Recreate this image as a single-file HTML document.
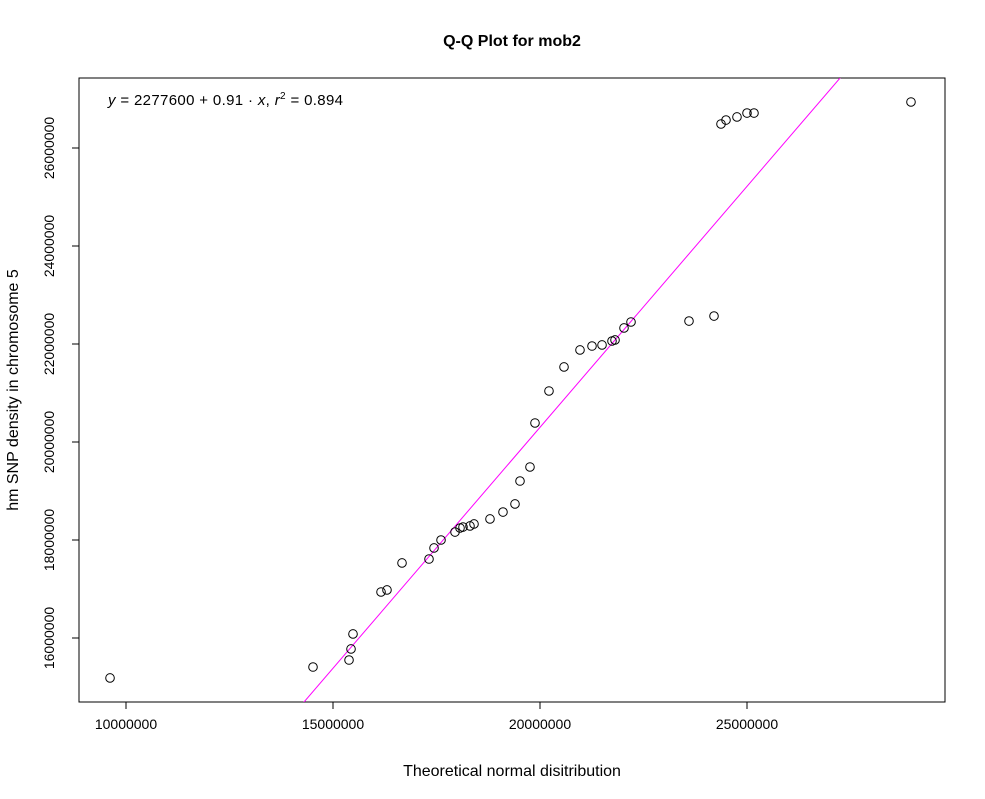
<!DOCTYPE html>
<html><head><meta charset="utf-8">
<style>
html,body{margin:0;padding:0;background:#fff;overflow:hidden;width:985px;height:799px;}
svg{display:block;position:absolute;left:0;top:0;overflow:hidden;font-family:"Liberation Sans",Arial,sans-serif;}
</style></head>
<body>
<svg id="chart" width="985" height="799" viewBox="0 0 985 799">
<text x="512" y="46" text-anchor="middle" font-size="16" font-weight="bold">Q-Q Plot for mob2</text>
<rect x="79" y="78" width="866" height="624" fill="none" stroke="#000" stroke-width="1"/>
<text x="108" y="105" font-size="15" textLength="235" lengthAdjust="spacing"><tspan font-style="italic">y</tspan> = 2277600 + 0.91 · <tspan font-style="italic">x</tspan>,  <tspan font-style="italic">r</tspan><tspan font-size="10" dy="-6">2</tspan><tspan dy="6"> = 0.894</tspan></text>
<text x="512" y="776" text-anchor="middle" font-size="16">Theoretical normal disitribution</text>
<text transform="translate(18,390) rotate(-90)" text-anchor="middle" font-size="16">hm SNP density in chromosome 5</text>
<g id="xaxis"></g>
<g id="yaxis"></g>
<g id="plot"></g>
</svg>
<script>
const xTicks = [10000000, 15000000, 20000000, 25000000];
const yTicks = [16000000, 18000000, 20000000, 22000000, 24000000, 26000000];
const xValues = [9.614,14.517,15.387,15.435,15.483,16.160,16.304,16.667,17.319,17.440,17.609,17.947,18.068,18.140,18.309,18.406,18.792,19.106,19.396,19.517,19.758,19.879,20.217,20.580,20.966,21.256,21.498,21.739,21.812,22.029,22.198,23.599,24.203,24.372,24.493,24.758,25.000,25.169,28.961];
const yValues = [15.184,15.408,15.551,15.776,16.082,16.939,16.980,17.531,17.612,17.837,18.000,18.163,18.245,18.265,18.286,18.327,18.429,18.571,18.735,19.204,19.490,20.388,21.041,21.531,21.878,21.959,21.980,22.061,22.082,22.327,22.449,22.469,22.571,26.490,26.571,26.633,26.714,26.714,26.939];
const lineIntercept = 0.630; // millions
const lineSlope = 0.9835;

const NS = "http://www.w3.org/2000/svg";
const L = 79, R = 945, T = 78, B = 702;
function sx(v) { return 126 + (v - 10) * 207 / 5; }
function sy(v) { return 638 - (v - 16) * 49; }
function mk(tag, attrs, parent) {
  const e = document.createElementNS(NS, tag);
  for (const k in attrs) e.setAttribute(k, attrs[k]);
  parent.appendChild(e); return e;
}
const xa = document.getElementById('xaxis'), ya = document.getElementById('yaxis'), pl = document.getElementById('plot');
mk('line', {x1: sx(xTicks[0]/1e6), x2: sx(xTicks[xTicks.length-1]/1e6), y1: B, y2: B, stroke: '#000'}, xa);
xTicks.forEach(t => {
  const x = sx(t/1e6);
  const tk = mk('line', {x1: x, x2: x, y1: B, y2: B + 7, stroke: '#000'}, xa);
  
  
  const lb = mk('text', {x: x, y: 729, 'text-anchor': 'middle', 'font-size': 14}, xa);
  lb.textContent = String(t);
  
  
});
mk('line', {x1: L, x2: L, y1: sy(yTicks[0]/1e6), y2: sy(yTicks[yTicks.length-1]/1e6), stroke: '#000'}, ya);
yTicks.forEach(t => {
  const y = sy(t/1e6);
  const tk = mk('line', {x1: L - 7, x2: L, y1: y, y2: y, stroke: '#000'}, ya);
  
  
  const lb = mk('text', {transform: `translate(54,${y}) rotate(-90)`, 'text-anchor': 'middle', 'font-size': 14}, ya);
  lb.textContent = String(t);
  
  
});
const defs = mk('defs', {}, pl);
const cp = mk('clipPath', {id: 'clip'}, defs);
mk('rect', {x: L, y: T, width: R - L, height: B - T}, cp);
const x1 = 10, x2 = 30;
const ln = mk('line', {x1: sx(x1), y1: sy(lineIntercept + lineSlope * x1), x2: sx(x2), y2: sy(lineIntercept + lineSlope * x2), stroke: '#ff00ff', 'stroke-width': 1, 'clip-path': 'url(#clip)'}, pl);


xValues.forEach((v, i) => {
  const c = mk('circle', {cx: sx(v), cy: sy(yValues[i]), r: 4.3, fill: 'none', stroke: '#000', 'stroke-width': 1}, pl);
  
  
});
</script>
</body></html>
